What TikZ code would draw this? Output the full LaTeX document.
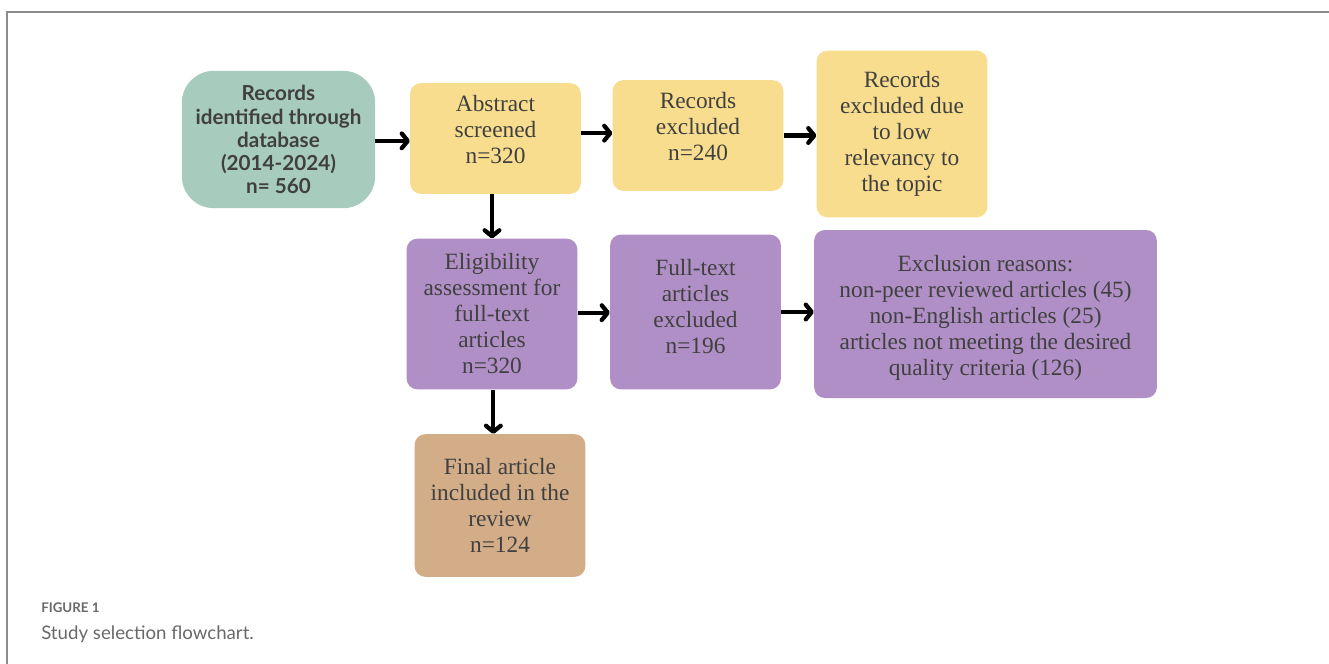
\documentclass[tikz,border=0pt]{standalone}
\usepackage{fontspec}
\setmainfont{Liberation Serif}
\newfontfamily\boxsans{Lato}
\usetikzlibrary{arrows.meta}
\definecolor{srcgreen}{RGB}{167,203,189}
\definecolor{scrnyellow}{RGB}{247,221,141}
\definecolor{fullpurple}{RGB}{176,143,198}
\definecolor{fintan}{RGB}{210,173,135}
\definecolor{boxtext}{RGB}{64,64,64}
\definecolor{framegray}{RGB}{140,140,140}
\definecolor{capgray}{RGB}{105,105,105}
\tikzset{
  stagebox/.style={rounded corners=8pt, align=center, text=boxtext, inner sep=2pt,
    font=\fontsize{17.5}{19.5}\selectfont},
  flow/.style={line width=3.2pt, -{Straight Barb[length=4.5pt,width=11pt,line cap=round,line join=round]}}
}
\begin{document}
\begin{tikzpicture}[x=0.75pt,y=-0.75pt]
\useasboundingbox (0,0) rectangle (1329,664);
% frame
\draw[framegray, line width=1.1pt] (7,664)--(7,12)--(1329,12);

% boxes
\node[stagebox, fill=srcgreen, rounded corners=24pt, minimum width=145pt, minimum height=103pt,
  font=\boxsans\bfseries\fontsize{15.5}{17.3}\selectfont] (src) at (278.5,139.5)
  {Records\\identified through\\database\\(2014-2024)\\n= 560};
\node[stagebox, fill=scrnyellow, minimum width=128pt, minimum height=83pt] (abs) at (495.5,138.5)
  {Abstract\\screened\\n=320\\[-6pt]};
\node[stagebox, fill=scrnyellow, minimum width=128pt, minimum height=83pt] (rex) at (698,135.5)
  {Records\\excluded\\n=240\\[-6pt]};
\node[stagebox, fill=scrnyellow, minimum width=128pt, minimum height=125pt] (rel) at (902,134)
  {Records\\excluded due\\to low\\relevancy to\\the topic};
\node[stagebox, fill=fullpurple, minimum width=128pt, minimum height=113pt] (elig) at (492,314)
  {Eligibility\\assessment for\\full-text\\articles\\n=320};
\node[stagebox, fill=fullpurple, minimum width=128pt, minimum height=116pt] (ftx) at (695.5,312)
  {Full-text\\articles\\excluded\\n=196\\[-10.5pt]};
\node[stagebox, fill=fullpurple, minimum width=257pt, minimum height=126pt] (why) at (985.5,314)
  {\\[-2pt]Exclusion reasons:\\non-peer reviewed articles (45)\\non-English articles (25)\\articles not meeting the desired\\quality criteria (126)};
\node[stagebox, fill=fintan, minimum width=128pt, minimum height=107pt] (fin) at (500,505.5)
  {Final article\\included in the\\review\\n=124};

% arrows
\draw[flow] ([yshift=-1pt]src.east) -- ([yshift=-1pt]src.east -| abs.west);
\draw[flow] ([yshift=4pt]abs.east) -- ([yshift=4pt]abs.east -| rex.west);
\draw[flow] (rex.east) -- (rex.east -| rel.west);
\draw[flow] (elig.north |- abs.south) -- (elig.north);
\draw[flow] ([yshift=1pt]elig.east) -- ([yshift=1pt]elig.east -| ftx.west);
\draw[flow] (ftx.east) -- (ftx.east -| why.west);
\draw[flow] ([xshift=1pt]elig.south) -- ([xshift=1pt]elig.south |- fin.north);

% caption
\node[anchor=base west, inner sep=0pt, text=capgray, font=\boxsans\bfseries\fontsize{10}{12}\selectfont] (fig) at (41,612) {FIGURE 1};
\node[anchor=base west, inner sep=0pt, text=capgray, font=\boxsans\fontsize{14}{16}\selectfont] (cap) at (41,639) {Study selection flowchart.};
\end{tikzpicture}
\end{document}
